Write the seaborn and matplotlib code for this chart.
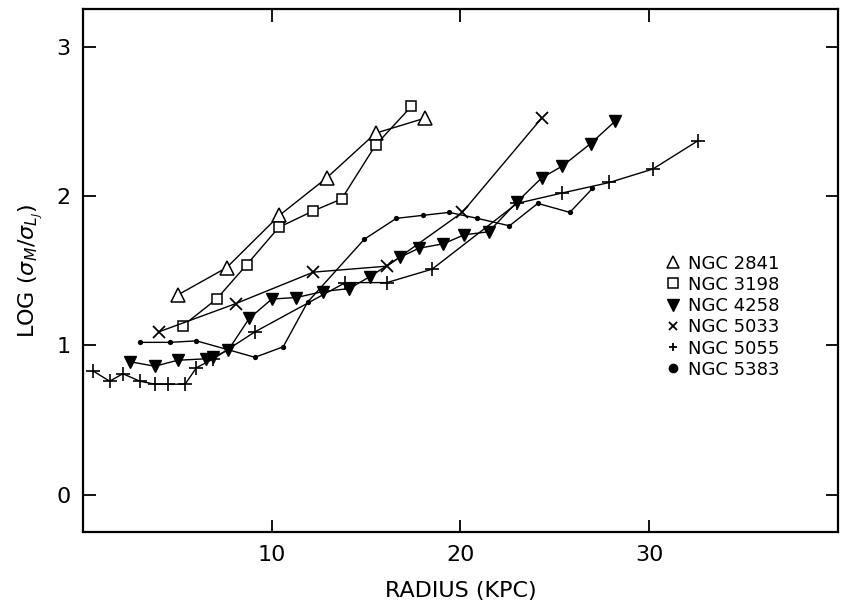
import numpy as np
import pandas as pd
import matplotlib
matplotlib.use("Agg")
import matplotlib.pyplot as plt
from matplotlib.lines import Line2D
import seaborn as sns

# === DONNEES ===
ngc2841_r = [5.05, 7.6, 10.4, 12.9, 15.5, 18.1]
ngc2841_v = [1.34, 1.52, 1.87, 2.12, 2.42, 2.52]

ngc3198_r = [5.27, 7.07, 8.67, 10.37, 12.2, 13.7, 15.5, 17.4]
ngc3198_v = [1.13, 1.31, 1.54, 1.79, 1.90, 1.98, 2.34, 2.60]

ngc4258_r = [2.5, 3.8, 5.0, 6.5, 6.9, 7.7, 8.8, 10.0, 11.3, 12.7, 14.1, 15.2,
             16.8, 17.8, 19.1, 20.2, 21.5, 23.0, 24.3, 25.4, 26.9, 28.2]
ngc4258_v = [0.89, 0.86, 0.90, 0.91, 0.92, 0.97, 1.18, 1.31, 1.32, 1.36, 1.38, 1.46,
             1.59, 1.65, 1.68, 1.74, 1.76, 1.96, 2.12, 2.20, 2.35, 2.50]

ngc5033_r = [4.0, 8.1, 12.2, 16.1, 20.1, 24.3]
ngc5033_v = [1.09, 1.28, 1.49, 1.53, 1.89, 2.52]

ngc5055_r = [0.5, 1.4, 2.1, 3.0, 3.8, 4.5, 5.4, 6.0, 6.9, 9.1, 13.9, 16.1,
             18.5, 23.0, 25.4, 27.9, 30.2, 32.6]
ngc5055_v = [0.83, 0.76, 0.81, 0.76, 0.74, 0.74, 0.74, 0.85, 0.91, 1.09, 1.42, 1.42,
             1.51, 1.95, 2.02, 2.09, 2.18, 2.37]

ngc5383_r = [3.0, 4.6, 6.0, 7.7, 9.1, 10.6, 11.9, 14.9, 16.6, 18.0, 19.4,
             20.9, 22.6, 24.1, 25.8, 27.0]
ngc5383_v = [1.02, 1.02, 1.03, 0.97, 0.92, 0.99, 1.29, 1.71, 1.85, 1.87, 1.89,
             1.85, 1.80, 1.95, 1.89, 2.05]

labels = ["NGC 2841", "NGC 3198", "NGC 4258", "NGC 5033", "NGC 5055", "NGC 5383"]

# === STYLE ===
sns.set_style("ticks")
plt.rcParams["font.family"] = ["DejaVu Sans"]
plt.rcParams["mathtext.fontset"] = "dejavusans"
plt.rcParams["text.color"] = "black"
plt.rcParams["axes.labelcolor"] = "black"
plt.rcParams["xtick.color"] = "black"
plt.rcParams["ytick.color"] = "black"

fig = plt.figure(figsize=(8.41, 6.13), dpi=100)
ax = fig.add_axes([0.099, 0.132, 0.897, 0.853])

series = [
    (ngc2841_r, ngc2841_v, dict(marker="^", ms=10, mfc="white", mew=1.1)),
    (ngc3198_r, ngc3198_v, dict(marker="s", ms=7.5, mfc="white", mew=1.1)),
    (ngc4258_r, ngc4258_v, dict(marker="v", ms=9, mfc="black", mew=1.0)),
    (ngc5033_r, ngc5033_v, dict(marker="x", ms=9, mew=1.3)),
    (ngc5055_r, ngc5055_v, dict(marker="+", ms=10, mew=1.2)),
    (ngc5383_r, ngc5383_v, dict(marker="o", ms=3.8, mfc="black", mew=0)),
]

for (r, v, st), lab in zip(series, labels):
    df = pd.DataFrame({"r": r, "v": v})
    sns.lineplot(data=df, x="r", y="v", ax=ax, sort=False, estimator=None,
                 color="black", linewidth=1.0, mec="black", **st)

# legende : marqueurs seuls
leg_styles = [
    dict(marker="^", ms=9, mfc="white", mew=1.1),
    dict(marker="s", ms=6.5, mfc="white", mew=1.1),
    dict(marker="v", ms=9, mfc="black"),
    dict(marker="x", ms=6, mew=1.3),
    dict(marker="+", ms=6, mew=1.3),
    dict(marker="o", ms=6, mfc="black"),
]
handles = [Line2D([], [], linestyle="none", color="black", mec="black", **s) for s in leg_styles]
ax.legend(handles, labels, loc="upper left", bbox_to_anchor=(0.758, 0.548),
          frameon=False, fontsize=13, handletextpad=0.3, labelspacing=0.18,
          handlelength=1.0, borderpad=0)

ax.set_xlim(0, 40)
ax.set_ylim(-0.25, 3.25)
ax.set_xticks([10, 20, 30])
ax.set_yticks([0, 1, 2, 3])
ax.tick_params(direction="in", length=9, width=1.3, top=True, right=True,
               labelsize=16, pad=9)
for s in ax.spines.values():
    s.set_linewidth(1.6)
    s.set_color("black")

ax.set_xlabel("RADIUS (KPC)", fontsize=16, labelpad=12)
ax.set_ylabel(r"LOG ($\sigma_M/\sigma_{L_J}$)", fontsize=16, labelpad=8)

plt.savefig("out.png", dpi=100)
plt.close()
